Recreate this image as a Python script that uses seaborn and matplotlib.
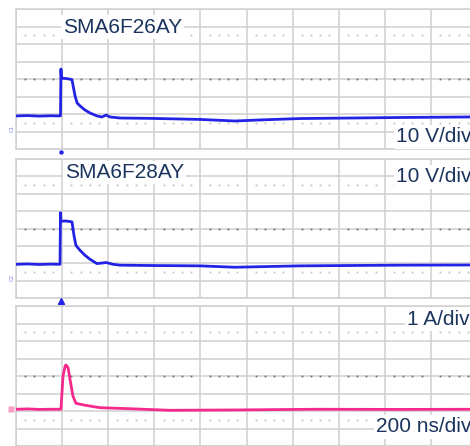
import numpy as np
import pandas as pd
import matplotlib
matplotlib.use("Agg")
import matplotlib.pyplot as plt
import seaborn as sns

# time in ns (200 ns/div), trigger at t = 0
t_26 = [-200, -150, -100, -50, -10, -7, -5, -3, 15, 30, 43, 47, 56, 65, 78, 99, 121,
        151, 173, 191, 208, 251, 382, 598, 750, 858, 1032, 1250, 1466, 1770, 1800]
v_26 = [8.9, 9.1, 8.8, 9.0, 8.9, 9.0, 35.7, 30.5, 30.3, 30.0, 29.6, 26.6, 20.5, 16.3, 14.6,
        12.3, 10.6, 8.9, 8.3, 9.4, 8.3, 7.7, 7.5, 6.9, 6.0, 6.6, 7.4, 7.7, 8.0, 8.3, 8.3]

t_28 = [-200, -150, -100, -50, -12, -9, -7, -5, 15, 30, 43, 52, 60, 78, 99, 121, 151,
        191, 221, 251, 382, 598, 750, 1032, 1466, 1770, 1800]
v_28 = [9.4, 9.6, 9.3, 9.5, 9.4, 9.4, 39.1, 34.2, 34.3, 34.1, 33.8, 25.6, 20.3, 17.4, 14.6,
        12.3, 9.8, 10.4, 9.4, 8.9, 8.7, 8.5, 7.7, 8.5, 8.9, 9.0, 9.0]

t_cur = [-200, -150, -100, -50, -5, 4, 13, 17, 26, 34, 47, 60, 99, 164, 295, 468, 750,
         1100, 1466, 1800]
i_cur = [0.1, 0.12, 0.09, 0.1, 0.1, 2.0, 2.57, 2.63, 2.47, 1.83, 0.86, 0.44, 0.33, 0.19,
         0.13, 0.04, 0.06, 0.1, 0.09, 0.1]

labels = ["SMA6F26AY", "SMA6F28AY"]
scale_v = "10 V/div"
scale_i = "1 A/div"
scale_t = "200 ns/div"

sns.set_style("white")
plt.rcParams['font.family'] = ['Liberation Sans', 'DejaVu Sans']

W, H = 470, 446
fig = plt.figure(figsize=(W / 100, H / 100), dpi=100)

def px_axes(top, bottom, left=16, right=477):
    return fig.add_axes([left / W, (H - bottom) / H, (right - left) / W, (bottom - top) / H])

ax1 = px_axes(9, 149)
ax2 = px_axes(159, 298)
ax3 = px_axes(306, 446)

grid_c = '#d0d0d0'
txt_c = '#1c355e'
blue = '#2323e6'
pink = '#f5288c'

def scope_grid(ax, ylo, yhi, step):
    ax.set_xlim(-200, 1800)
    ax.set_ylim(ylo, yhi)
    ax.set_xticks(np.arange(-200, 1801, 200))
    ax.set_yticks(np.arange(ylo, yhi + step / 2, step))
    ax.grid(True, color=grid_c, lw=1.1)
    ax.tick_params(left=False, bottom=False, labelleft=False, labelbottom=False)
    for s in ax.spines.values():
        s.set_color(grid_c)
        s.set_linewidth(1.1)
    mid = (ylo + yhi) / 2
    dots = np.array([x for x in np.arange(-200, 1800, 40) if x % 200 != 0])
    ax.plot(dots, np.full(len(dots), mid), ls='none', marker='s', ms=1.3,
            color='#707070', mec='none', zorder=1)
    for yy in (ylo + 1.5 * step, yhi - 1.5 * step):
        ax.plot(dots, np.full(len(dots), yy), ls='none', marker='s', ms=1.3,
                color='#c4c4c4', mec='none', zorder=1)

scope_grid(ax1, -10, 70, 10)
scope_grid(ax2, -10, 70, 10)
scope_grid(ax3, -2, 6, 1)

df1 = pd.DataFrame({'t': t_26, 'v': v_26})
df2 = pd.DataFrame({'t': t_28, 'v': v_28})
df3 = pd.DataFrame({'t': t_cur, 'i': i_cur})

sns.lineplot(data=df1, x='t', y='v', ax=ax1, color=blue, lw=2.0, estimator=None, zorder=3)
sns.lineplot(data=df2, x='t', y='v', ax=ax2, color=blue, lw=2.0, estimator=None, zorder=3)
sns.lineplot(data=df3, x='t', y='i', ax=ax3, color=pink, lw=2.0, estimator=None, zorder=3)
for ax in (ax1, ax2, ax3):
    ax.set_xlabel('')
    ax.set_ylabel('')

box = dict(facecolor='white', edgecolor='none', pad=1.5)
ax1.text(0.102, 0.871, labels[0], transform=ax1.transAxes, fontsize=15, color=txt_c,
         va='center', ha='left', bbox=box, zorder=5)
ax1.text(0.824, 0.086, scale_v, transform=ax1.transAxes, fontsize=15, color=txt_c,
         va='center', ha='left', bbox=box, zorder=5)
ax2.text(0.106, 0.90, labels[1], transform=ax2.transAxes, fontsize=15, color=txt_c,
         va='center', ha='left', bbox=box, zorder=5)
ax2.text(0.824, 0.871, scale_v, transform=ax2.transAxes, fontsize=15, color=txt_c,
         va='center', ha='left', bbox=box, zorder=5)
ax3.text(0.848, 0.907, scale_i, transform=ax3.transAxes, fontsize=15, color=txt_c,
         va='center', ha='left', bbox=box, zorder=5)
ax3.text(0.781, 0.136, scale_t, transform=ax3.transAxes, fontsize=15, color=txt_c,
         va='center', ha='left', bbox=box, zorder=5)

# trigger / ground markers
ax1.plot([-5], [-11.7], marker='o', ms=2.2, color=blue, clip_on=False)
ax3.plot([-5], [6.3], marker='^', ms=4, color=blue, clip_on=False)
ax1.text(-218, 2, 'C1', rotation=90, fontsize=4, color='#7a7af0', ha='center', va='center',
         clip_on=False)
ax2.text(-218, 2, 'C2', rotation=90, fontsize=4, color='#7a7af0', ha='center', va='center',
         clip_on=False)
ax3.plot([-220], [0.1], marker='s', ms=4, color='#f7a0c8', mec='none', clip_on=False)

fig.savefig("out.png", dpi=100)
